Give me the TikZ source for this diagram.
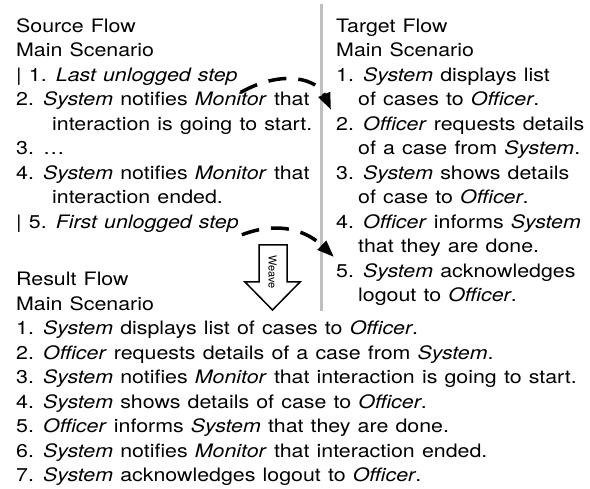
\documentclass[tikz,border=0pt]{standalone}
\usepackage{fontspec}
\usepackage{graphicx}
\setmainfont{TeX Gyre Heros}
\usetikzlibrary{arrows.meta}
% wide text: Helvetica-like face, stretched horizontally, a little looser word space
\newcommand\wide[1]{\scalebox{1.155}[1]{\spaceskip=6.2pt\relax #1}}
\tikzset{
  line/.style={anchor=base west, inner sep=0pt, font=\fontsize{18.5}{22}\selectfont},
  link/.style={line width=3.5pt, dash pattern=on 18pt off 12pt,
    -{Triangle[length=17pt,width=12pt]}},
  divider/.style={line width=3pt, draw=black!25},
  weave/.style={draw, line width=1.5pt, fill=white, line join=miter},
}
\begin{document}
\begin{tikzpicture}[x=1pt,y=-1pt]
\useasboundingbox (0,0) rectangle (590,489);

% column divider
\coordinate (dtop) at (321.5,4);
\coordinate (dbot) at (321.5,311);
\draw[divider] (dtop) -- (dbot);

% source flow
\node[line] (sA) at (16,32.3)  {\wide{Source Flow}};
\node[line] (sB) at (16,56.8)  {\wide{Main Scenario}};
\node[line] (s1) at (16,81.3)  {\wide{| 1. \textit{Last unlogged step}}};
\node[line] (s2) at (16,105.8) {\wide{2. \textit{System} notifies \textit{Monitor} that}};
\node[line] (s2b) at (52,130.3) {\wide{interaction is going to start.}};
\node[line] (s3) at (16,154.8) {\wide{3. \dots}};
\node[line] (s4) at (16,179.3) {\wide{4. \textit{System} notifies \textit{Monitor} that}};
\node[line] (s4b) at (52,203.8) {\wide{interaction ended.}};
\node[line] (s5) at (16,228.3) {\wide{| 5. \textit{First unlogged step}}};

% target flow
\node[line] (tA) at (336,32.3)  {\wide{Target Flow}};
\node[line] (tB) at (336,56.8)  {\wide{Main Scenario}};
\node[line] (t1) at (336,81.3)  {\wide{1. \textit{System} displays list}};
\node[line] (t1b) at (358,105.8) {\wide{of cases to \textit{Officer}.}};
\node[line] (t2) at (336,130.3) {\wide{2. \textit{Officer} requests details}};
\node[line] (t2b) at (358,154.8) {\wide{of a case from \textit{System}.}};
\node[line] (t3) at (336,179.3) {\wide{3. \textit{System} shows details}};
\node[line] (t3b) at (358,203.8) {\wide{of case to \textit{Officer}.}};
\node[line] (t4) at (336,228.3) {\wide{4. \textit{Officer} informs \textit{System}}};
\node[line] (t4b) at (358,252.8) {\wide{that they are done.}};
\node[line] (t5) at (336,277.3) {\wide{5. \textit{System} acknowledges}};
\node[line] (t5b) at (358,301.8) {\wide{logout to \textit{Officer}.}};

% result flow
\node[line] (rA) at (16,286)   {\wide{Result Flow}};
\node[line] (rB) at (16,310.5) {\wide{Main Scenario}};
\node[line] (r1) at (16,335)   {\wide{1. \textit{System} displays list of cases to \textit{Officer}.}};
\node[line] (r2) at (16,359.5) {\wide{2. \textit{Officer} requests details of a case from \textit{System}.}};
\node[line] (r3) at (16,384)   {\wide{3. \textit{System} notifies \textit{Monitor} that interaction is going to start.}};
\node[line] (r4) at (16,408.5) {\wide{4. \textit{System} shows details of case to \textit{Officer}.}};
\node[line] (r5) at (16,433)   {\wide{5. \textit{Officer} informs \textit{System} that they are done.}};
\node[line] (r6) at (16,457.5) {\wide{6. \textit{System} notifies \textit{Monitor} that interaction ended.}};
\node[line] (r7) at (16,482)   {\wide{7. \textit{System} acknowledges logout to \textit{Officer}.}};

% weaving links from the unlogged steps into the target flow
\coordinate (in1) at (331,110);
\coordinate (in5) at (334,257);
\draw[link] ([xshift=3pt,yshift=-11pt]s1.base east)
  .. controls (285,68) and (318,80) .. (in1);
\draw[link] ([xshift=3pt,yshift=-6.5pt]s5.base east)
  .. controls (280,220) and (308,232) .. (in5);

% weave block arrow
\draw[weave] (259,245) -- (287,245) -- (287,282) -- (300,282)
  -- (272.5,310) -- (245,282) -- (259,282) -- cycle;
\node[rotate=-90, inner sep=0pt, font=\fontsize{11}{12}\selectfont] (wv) at (272.5,272) {Weave};
\end{tikzpicture}
\end{document}
